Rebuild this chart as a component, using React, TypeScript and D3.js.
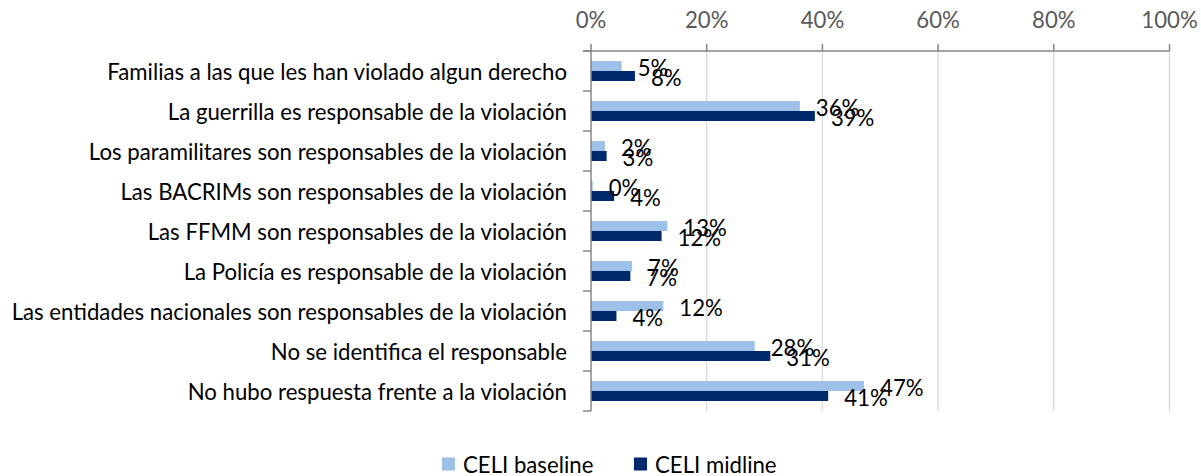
import React from "react";
import { scaleLinear, scaleBand, range } from "d3";

const categories = [
  "Familias a las que les han violado algun derecho",
  "La guerrilla es responsable de la violación",
  "Los paramilitares son responsables de la violación",
  "Las BACRIMs son responsables de la violación",
  "Las FFMM son responsables de la violación",
  "La Policía es responsable de la violación",
  "Las entidades nacionales son responsables de la violación",
  "No se identifica el responsable",
  "No hubo respuesta frente a la violación",
];

const seriesNames = ["CELI baseline", "CELI midline"];
const baseline = [0.053, 0.361, 0.024, 0.003, 0.132, 0.071, 0.125, 0.283, 0.472];
const midline = [0.076, 0.387, 0.027, 0.04, 0.122, 0.068, 0.044, 0.31, 0.41];
const baselineLabels = ["5%", "36%", "2%", "0%", "13%", "7%", "12%", "28%", "47%"];
const midlineLabels = ["8%", "39%", "3%", "4%", "12%", "7%", "4%", "31%", "41%"];
const xTicks = [0, 0.2, 0.4, 0.6, 0.8, 1];

const colors = ["#9dc0e8", "#00296b"];
const FONT = "Lato, 'Open Sans', sans-serif";
const FS = 22.2;

export default function App() {
  const width = 1201;
  const height = 476;

  const x = scaleLinear().domain([0, 1]).range([591, 1169.5]);
  const y = scaleBand<string>().domain(categories).range([51, 411]);
  // two bars per band, one band step of empty space on each side
  const inner = scaleBand<number>()
    .domain([0, 1])
    .range([0, y.bandwidth()])
    .paddingOuter(1);

  const series = [
    { values: baseline, labels: baselineLabels },
    { values: midline, labels: midlineLabels },
  ];

  const [y0, y1] = y.range();

  return (
    <svg
      width={width}
      height={height}
      style={{ position: "absolute", left: 0, top: 0, background: "#fff" }}
      fontFamily={FONT}
    >
      {/* gridlines */}
      {xTicks.slice(1).map((t) => (
        <line key={t} x1={x(t)} x2={x(t)} y1={y0} y2={y1} stroke="#d9d9d9" strokeWidth={1.3} />
      ))}

      {/* top axis */}
      <line x1={583} x2={x(1)} y1={y0} y2={y0} stroke="#868686" strokeWidth={1.5} />
      {xTicks.map((t) => (
        <g key={t}>
          <line x1={x(t)} x2={x(t)} y1={y0 - 7} y2={y0} stroke="#868686" strokeWidth={1.5} />
          <text x={x(t)} y={28} textAnchor="middle" fontSize={FS} fill="#595959">
            {Math.round(t * 100)}%
          </text>
        </g>
      ))}

      {/* bars */}
      {series.map((s, si) =>
        categories.map((c, i) => (
          <rect
            key={`${si}-${c}`}
            x={x(0)}
            y={(y(c) ?? 0) + (inner(si) ?? 0)}
            width={x(s.values[i]) - x(0)}
            height={inner.bandwidth()}
            fill={colors[si]}
          />
        ))
      )}

      {/* data labels */}
      {series.map((s, si) =>
        categories.map((c, i) => (
          <text
            key={`l-${si}-${c}`}
            x={x(s.values[i]) + 16}
            y={(y(c) ?? 0) + (inner(si) ?? 0) + inner.bandwidth() / 2 + 1}
            dominantBaseline="central"
            fontSize={FS}
            fill="#000"
          >
            {s.labels[i]}
          </text>
        ))
      )}

      {/* category axis */}
      <line x1={x(0)} x2={x(0)} y1={y0} y2={y1} stroke="#868686" strokeWidth={1.5} />
      {range(categories.length + 1).map((k) => {
        const yy = y0 + k * y.step();
        return <line key={k} x1={583} x2={x(0)} y1={yy} y2={yy} stroke="#868686" strokeWidth={1.5} />;
      })}
      {categories.map((c) => (
        <text
          key={c}
          x={567}
          y={(y(c) ?? 0) + y.bandwidth() / 2}
          textAnchor="end"
          dominantBaseline="central"
          fontSize={FS}
          fill="#000"
        >
          {c}
        </text>
      ))}

      {/* legend */}
      {seriesNames.map((name, si) => {
        const lx = [442, 634][si];
        return (
          <g key={name}>
            <rect x={lx} y={457.5} width={13} height={13} fill={colors[si]} />
            <text x={lx + 21} y={464} dominantBaseline="central" fontSize={FS} fill="#000">
              {name}
            </text>
          </g>
        );
      })}
    </svg>
  );
}
